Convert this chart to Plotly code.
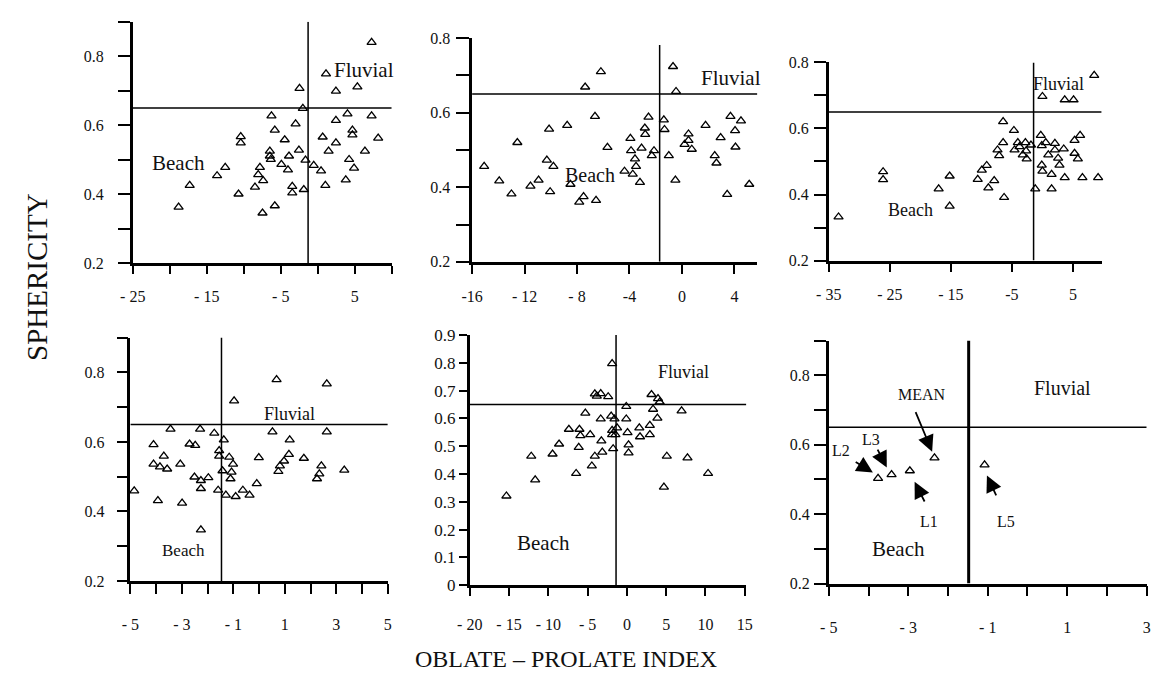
import plotly.graph_objects as go

W, H = 1165, 684
FONT = "Liberation Serif"

# ---------------- data ----------------
# Panel 1
p1_x = [7.28, 1.12, -2.46, 2.46, 5.36, -2.01, -6.25, -2.99, -5.80, 2.46, 4.02, 7.28, 4.69, 4.69,
        0.67, 2.46, 1.47, 8.17, 6.38, 4.24, 4.91, 3.79, 1.03, 0.45, -0.54, -1.65, -1.88, -3.44,
        -3.44, -2.54, -3.88, -4.46, -4.02, -4.91, -6.47, -6.34, -6.47, -7.81, -8.04, -7.37, -8.48,
        -7.46, -5.80, -10.4, -10.4, -10.7, -12.5, -13.6, -17.3, -18.8]
p1_y = [0.840, 0.749, 0.707, 0.699, 0.711, 0.649, 0.627, 0.604, 0.586, 0.614, 0.633, 0.627, 0.586, 0.572,
        0.566, 0.549, 0.525, 0.563, 0.525, 0.501, 0.476, 0.442, 0.426, 0.468, 0.484, 0.499, 0.414, 0.423,
        0.404, 0.528, 0.511, 0.558, 0.471, 0.487, 0.525, 0.501, 0.511, 0.478, 0.457, 0.440, 0.421,
        0.346, 0.367, 0.567, 0.549, 0.401, 0.478, 0.454, 0.426, 0.363]

# Panel 2
p2_x = [-15.08, -13.93, -13.0, -12.55, -11.55, -10.93, -10.13, -10.3, -9.8, -10.05, -8.75, -8.5, -7.83,
        -7.5, -6.55, -7.38, -6.18, -6.63, -5.68, -4.38, -3.75, -3.93, -3.88, -3.58, -3.5, -3.2, -3.08,
        -2.83, -2.8, -2.55, -2.3, -2.13, -1.38, -1.33, -1.0, -0.68, -0.5, -0.45, 0.2, 0.5, 0.5, 0.75,
        1.8, 2.5, 2.63, 2.95, 3.7, 4.05, 4.08, 4.5, 3.45, 5.13]
p2_y = [0.456, 0.417, 0.382, 0.520, 0.403, 0.419, 0.556, 0.473, 0.456, 0.388, 0.566, 0.408, 0.360,
        0.375, 0.365, 0.669, 0.710, 0.590, 0.507, 0.443, 0.435, 0.531, 0.498, 0.476, 0.456, 0.413, 0.505,
        0.559, 0.542, 0.588, 0.485, 0.498, 0.581, 0.555, 0.485, 0.724, 0.419, 0.657, 0.515, 0.543, 0.526,
        0.502, 0.566, 0.485, 0.465, 0.533, 0.590, 0.552, 0.508, 0.578, 0.381, 0.408]

# Panel 3
p3_x = [-33.4, -26.1, -26.1, -17.0, -15.2, -15.2, -10.6, -9.93, -9.13, -8.86, -7.9, -6.28, -6.44, -6.44,
        -7.36, -7.09, -4.67, -4.57, -4.03, -3.76, -3.22, -2.79, -2.68, -2.58, -1.88, -1.18, -0.27, -0.11,
        0.0, -0.11, 0.0, 0.54, 0.96, 1.5, 1.5, 2.04, 2.04, 2.57, 2.79, 3.49, 3.65, 3.65, 5.1, 5.26, 5.26,
        5.8, 6.17, 6.55, 8.48, 9.12]
p3_y = [0.332, 0.469, 0.445, 0.417, 0.456, 0.365, 0.446, 0.474, 0.488, 0.420, 0.442, 0.391, 0.621, 0.557,
        0.535, 0.518, 0.594, 0.535, 0.557, 0.545, 0.520, 0.557, 0.532, 0.508, 0.550, 0.417, 0.579, 0.548,
        0.697, 0.489, 0.471, 0.557, 0.520, 0.417, 0.461, 0.555, 0.535, 0.510, 0.489, 0.538, 0.451, 0.687,
        0.687, 0.564, 0.525, 0.508, 0.579, 0.451, 0.761, 0.451]

# Panel 4
p4_x = [-4.85, -4.1, -4.1, -3.93, -3.85, -3.7, -3.57, -3.44, -3.06, -2.99, -2.7, -2.48, -2.51, -2.29,
        -2.26, -2.26, -2.26, -1.97, -1.74, -1.59, -1.55, -1.55, -1.37, -1.42, -1.29, -1.16, -1.11, -1.07,
        -1.01, -0.97, -0.91, -0.63, -0.37, -0.09, -0.01, 0.52, 0.68, 0.75, 0.81, 0.97, 1.16, 1.19, 1.74,
        2.25, 2.34, 2.42, 2.63, 2.63, 3.31]
p4_y = [0.459, 0.592, 0.536, 0.431, 0.528, 0.559, 0.522, 0.637, 0.536, 0.424, 0.594, 0.590, 0.499, 0.637,
        0.489, 0.466, 0.347, 0.497, 0.625, 0.461, 0.575, 0.559, 0.606, 0.517, 0.447, 0.556, 0.494, 0.513,
        0.536, 0.718, 0.443, 0.461, 0.447, 0.480, 0.555, 0.629, 0.779, 0.515, 0.531, 0.545, 0.564, 0.606,
        0.553, 0.494, 0.508, 0.531, 0.767, 0.629, 0.519]

# Panel 5
p5_x = [-15.33, -12.17, -11.67, -9.46, -8.63, -7.38, -6.46, -6.13, -6.04, -5.92, -5.29, -4.67, -4.46,
        -4.08, -4.08, -3.83, -3.33, -3.33, -3.25, -3.13, -2.38, -2.0, -1.88, -1.88, -1.88, -1.75, -1.58,
        -1.46, -1.25, -0.08, -0.08, 0.08, 0.21, 0.21, 1.58, 1.67, 2.92, 2.92, 3.13, 3.33, 3.88, 3.96,
        4.17, 4.71, 5.08, 6.96, 7.71, 10.33]
p5_y = [0.321, 0.464, 0.379, 0.472, 0.508, 0.561, 0.402, 0.496, 0.561, 0.538, 0.619, 0.542, 0.429,
        0.464, 0.688, 0.680, 0.689, 0.598, 0.519, 0.479, 0.678, 0.608, 0.797, 0.542, 0.557, 0.491, 0.598,
        0.542, 0.566, 0.643, 0.598, 0.549, 0.505, 0.476, 0.566, 0.534, 0.575, 0.542, 0.686, 0.633, 0.601,
        0.671, 0.659, 0.353, 0.464, 0.627, 0.458, 0.402]

# Panel 6 (means)
p6_names = ["L2", "L3", "L1", "MEAN", "L5"]
p6_x = [-3.76, -3.42, -2.96, -2.34, -1.08]
p6_y = [0.503, 0.514, 0.525, 0.562, 0.542]
# label position and arrow tail/head for each point
p6_lab_x = [-4.69, -3.95, -2.47, -2.65, -0.53]
p6_lab_y = [0.583, 0.614, 0.380, 0.745, 0.378]
p6_tail_x = [-4.36, -3.79, -2.57, -2.83, -0.77]
p6_tail_y = [0.553, 0.590, 0.432, 0.698, 0.450]
p6_head_x = [-3.89, -3.54, -2.84, -2.40, -1.02]
p6_head_y = [0.520, 0.534, 0.493, 0.580, 0.511]

# Threshold lines (x split, sphericity split) per panel
split_x = [-1.3, -1.7, -1.45, -1.46, -1.38, -1.48]
split_y = [0.65, 0.65, 0.65, 0.65, 0.65, 0.65]

# axis ranges
x_ranges = [[-25, 10], [-16, 5.75], [-35, 9.7], [-5, 5], [-20, 15.2], [-5, 3]]
y_ranges = [[0.2, 0.9], [0.2, 0.8], [0.2, 0.8], [0.2, 0.9], [0.0, 0.9], [0.2, 0.9]]

# tick values / labels
x_tickvals = [
    [-25, -20, -15, -10, -5, 0, 5, 10],
    [-16, -12, -8, -4, 0, 4],
    [-35, -25, -15, -5, 5],
    [-5, -4, -3, -2, -1, 0, 1, 2, 3, 4, 5],
    [-20, -15, -10, -5, 0, 5, 10, 15],
    [-5, -4, -3, -2, -1, 0, 1, 2, 3],
]
x_ticktext = [
    ["- 25", "", "- 15", "", "- 5", "", "5", ""],
    ["-16", "- 12", "- 8", "-4", "0", "4"],
    ["- 35", "- 25", "- 15", "-5", "5"],
    ["- 5", "", "- 3", "", "- 1", "", "1", "", "3", "", "5"],
    ["- 20", "- 15", "- 10", "- 5", "0", "5", "10", "15"],
    ["- 5", "", "- 3", "", "- 1", "", "1", "", "3"],
]
y_tickvals = [
    [0.2, 0.3, 0.4, 0.5, 0.6, 0.7, 0.8, 0.9],
    [0.2, 0.3, 0.4, 0.5, 0.6, 0.7, 0.8],
    [0.2, 0.3, 0.4, 0.5, 0.6, 0.7, 0.8],
    [0.2, 0.3, 0.4, 0.5, 0.6, 0.7, 0.8, 0.9],
    [0.0, 0.1, 0.2, 0.3, 0.4, 0.5, 0.6, 0.7, 0.8, 0.9],
    [0.2, 0.3, 0.4, 0.5, 0.6, 0.7, 0.8, 0.9],
]
y_ticktext = [
    ["0.2", "", "0.4", "", "0.6", "", "0.8", ""],
    ["0.2", "", "0.4", "", "0.6", "", "0.8"],
    ["0.2", "", "0.4", "", "0.6", "", "0.8"],
    ["0.2", "", "0.4", "", "0.6", "", "0.8", ""],
    ["0", "0.1", "0.2", "0.3", "0.4", "0.5", "0.6", "0.7", "0.8", "0.9"],
    ["0.2", "", "0.4", "", "0.6", "", "0.8", ""],
]

# region labels per panel: (text, x, y, font size)
region_labels = [
    [("Beach", -18.8, 0.492, 21), ("Fluvial", 6.23, 0.761, 21)],
    [("Beach", -7.0, 0.434, 20), ("Fluvial", 3.75, 0.692, 21)],
    [("Beach", -21.6, 0.353, 18), ("Fluvial", 2.68, 0.736, 18)],
    [("Beach", -2.93, 0.289, 17), ("Fluvial", 1.19, 0.680, 18)],
    [("Beach", -10.6, 0.153, 21), ("Fluvial", 7.2, 0.767, 18)],
    [("Beach", -3.25, 0.30, 21), ("Fluvial", 0.88, 0.763, 20)],
]

# ---------------- layout geometry (pixels) ----------------
def dx(a, b):
    return [a / W, b / W]

def dy(top, bottom):
    return [1 - bottom / H, 1 - top / H]

x_domains = [dx(121.7, 385), dx(466.7, 756.7), dx(829.3, 1106.7),
             dx(119.3, 381), dx(464.3, 745.5), dx(829.3, 1152.5)]
y_domains = [dy(13, 261.7), dy(30, 260), dy(55, 258.7),
             dy(338, 588.3), dy(335.3, 592.7), dy(341, 591)]
y_ticklen = [12, 13, 12, 11, 8, 12]
y_standoff = [11, 3, 2, 9, 0, 1]
x_ticklen = [8, 9, 9, 10, 8, 10]
x_standoff = [9, 9, 9, 17, 15, 17]
y_fontsize = [16, 16, 16, 16, 17, 16]
vline_top = [0.9, 0.782, 0.8, 0.9, 0.9, 0.9]
vline_width = [1.5, 1.5, 1.5, 1.5, 1.5, 3]

fig = go.Figure()
panel_x = [p1_x, p2_x, p3_x, p4_x, p5_x, p6_x]
panel_y = [p1_y, p2_y, p3_y, p4_y, p5_y, p6_y]

shapes = []
annotations = []
for i in range(6):
    n = "" if i == 0 else str(i + 1)
    xa, ya = "x" + n, "y" + n
    fig.add_trace(go.Scatter(
        x=panel_x[i], y=panel_y[i], mode="markers", xaxis=xa, yaxis=ya,
        marker=dict(symbol="triangle-up-open", size=8, color="black", line=dict(width=1.3)),
        cliponaxis=False, showlegend=False, hoverinfo="x+y"))
    common = dict(showline=True, linecolor="black", linewidth=2.5, showgrid=False, zeroline=False,
                  ticks="outside", tickcolor="black", tickwidth=1.5, tickmode="array", fixedrange=True)
    fig.layout["xaxis" + n] = dict(
        domain=x_domains[i], range=x_ranges[i], anchor=ya,
        tickvals=x_tickvals[i], ticktext=x_ticktext[i], ticklen=x_ticklen[i],
        ticklabelstandoff=x_standoff[i],
        tickfont=dict(family=FONT, size=16, color="#111"), **common)
    fig.layout["yaxis" + n] = dict(
        domain=y_domains[i], range=y_ranges[i], anchor=xa,
        tickvals=y_tickvals[i], ticktext=y_ticktext[i], ticklen=y_ticklen[i],
        ticklabelstandoff=y_standoff[i],
        tickfont=dict(family=FONT, size=y_fontsize[i], color="#111"), **common)
    # threshold lines
    shapes.append(dict(type="line", xref=xa, yref=ya, x0=split_x[i], x1=split_x[i],
                       y0=y_ranges[i][0], y1=vline_top[i],
                       line=dict(color="black", width=vline_width[i])))
    shapes.append(dict(type="line", xref=xa, yref=ya, x0=x_ranges[i][0], x1=x_ranges[i][1],
                       y0=split_y[i], y1=split_y[i], line=dict(color="black", width=1.5)))
    for (txt, tx, ty, fs) in region_labels[i]:
        annotations.append(dict(text=txt, x=tx, y=ty, xref=xa, yref=ya, showarrow=False,
                                xanchor="center", yanchor="middle",
                                font=dict(family=FONT, size=fs, color="#111")))

# panel 6 labelled arrows
for k in range(len(p6_names)):
    annotations.append(dict(text="", x=p6_head_x[k], y=p6_head_y[k], ax=p6_tail_x[k], ay=p6_tail_y[k],
                            xref="x6", yref="y6", axref="x6", ayref="y6", showarrow=True,
                            arrowhead=2, arrowsize=1.8, arrowwidth=1.8, arrowcolor="black"))
    annotations.append(dict(text=p6_names[k], x=p6_lab_x[k], y=p6_lab_y[k], xref="x6", yref="y6",
                            showarrow=False, xanchor="center", yanchor="middle",
                            font=dict(family=FONT, size=16, color="#111")))

# axis titles
annotations.append(dict(text="SPHERICITY", x=25 / W, y=1 - 276 / H, xref="paper", yref="paper",
                        xanchor="center", yanchor="middle",
                        showarrow=False, textangle=-90, font=dict(family=FONT, size=29, color="#111")))
annotations.append(dict(text="OBLATE – PROLATE INDEX", x=562 / W, y=1 - 669 / H, xref="paper",
                        yref="paper", xanchor="center", yanchor="middle",
                        showarrow=False, font=dict(family=FONT, size=24, color="#111")))

fig.update_layout(width=W, height=H, margin=dict(l=0, r=0, t=0, b=0),
                  paper_bgcolor="white", plot_bgcolor="white",
                  shapes=shapes, annotations=annotations, showlegend=False)

fig.write_html("out.html", config={"displayModeBar": False},
               post_script="document.body.style.margin='0';document.body.style.padding='0';")
